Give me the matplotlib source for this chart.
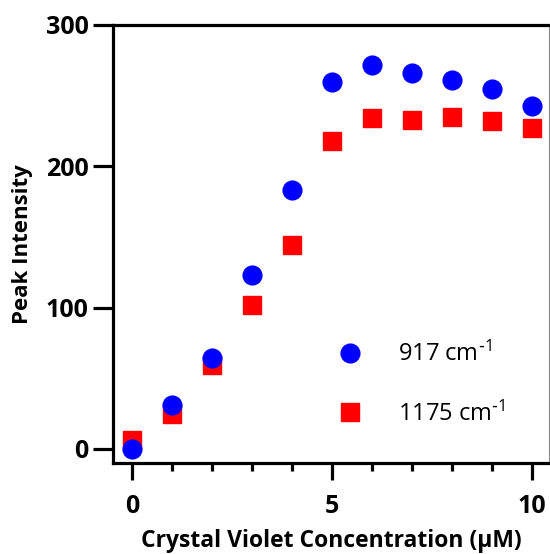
import matplotlib.pyplot as plt
from matplotlib.ticker import MultipleLocator

# Peak intensity vs crystal violet concentration
conc = [0, 1, 2, 3, 4, 5, 6, 7, 8, 9, 10]
peak_917 = [0, 31, 64, 123, 183, 260, 272, 266, 261, 255, 243]
peak_1175 = [6, 25, 59, 102, 144, 218, 234, 233, 235, 232, 227]
labels = [r'917 cm$^{\text{-}1}$', r'1175 cm$^{\text{-}1}$']

plt.rcParams['font.family'] = ['Open Sans', 'DejaVu Sans']
plt.rcParams['mathtext.default'] = 'regular'

fig = plt.figure(figsize=(5.5, 5.54), dpi=100)
ax = fig.add_axes([0.2055, 0.1643, 0.7925, 0.7906])

ax.plot(conc, peak_1175, 's', color='red', markersize=13.5, label=labels[1], zorder=2)
ax.plot(conc, peak_917, 'o', color='blue', markersize=13.5, label=labels[0], zorder=3)

ax.set_xlim(-0.47, 10.43)
ax.set_ylim(-10, 300)
ax.set_xticks([0, 5, 10])
ax.xaxis.set_minor_locator(MultipleLocator(1))
ax.set_yticks([0, 100, 200, 300])

for side in ['left', 'top', 'bottom']:
    ax.spines[side].set_linewidth(2.3)
ax.spines['right'].set_linewidth(0.8)
ax.spines['right'].set_color('#888888')

ax.tick_params(axis='y', which='major', length=14.5, width=2.3, pad=3,
               labelsize=18)
ax.tick_params(axis='x', which='major', length=12.5, width=2.3, pad=10,
               labelsize=18)
ax.tick_params(axis='x', which='minor', length=6, width=2.3)
for lab in ax.get_xticklabels() + ax.get_yticklabels():
    lab.set_fontweight('bold')

ax.set_xlabel('Crystal Violet Concentration (µM)', fontsize=16.5,
              fontweight='bold', labelpad=7)
ax.set_ylabel('Peak Intensity', fontsize=16, fontweight='bold', labelpad=9)

h, l = ax.get_legend_handles_labels()
ax.legend(h[::-1], l[::-1], loc='center left', bbox_to_anchor=(0.44, 0.18),
          frameon=False, fontsize=17, handletextpad=1.05, labelspacing=1.45,
          markerscale=1.0)

fig.savefig('out.png', dpi=100)
